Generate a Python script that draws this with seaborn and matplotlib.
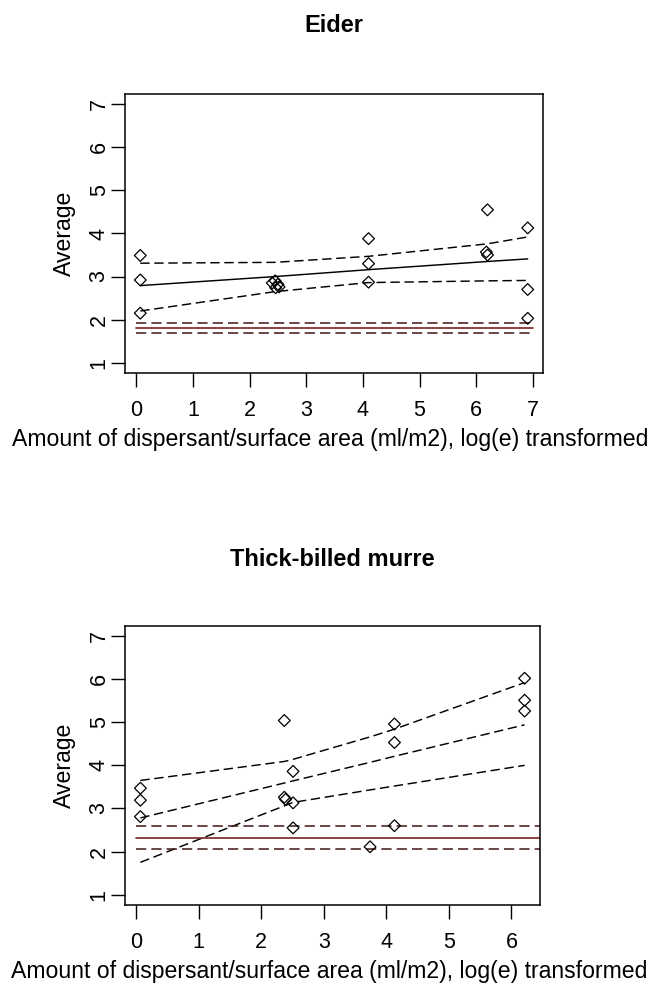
import matplotlib
matplotlib.use("Agg")
import matplotlib.pyplot as plt
import seaborn as sns
import pandas as pd

# ---------------- data ----------------
titles = ["Eider", "Thick-billed murre"]
x_label = "Amount of dispersant/surface area (ml/m2), log(e) transformed"
y_label = "Average"

eider_x = [0.07, 0.07, 0.07, 2.40, 2.45, 2.50, 2.52, 2.46, 4.10, 4.10, 4.10,
           6.18, 6.20, 6.20, 6.91, 6.91, 6.91]
eider_y = [3.49, 2.92, 2.15, 2.85, 2.90, 2.82, 2.76, 2.74, 3.88, 3.30, 2.87,
           3.57, 3.50, 4.55, 4.13, 2.70, 2.03]
eider_line_x = [0.07, 2.45, 4.10, 6.20, 6.91]
eider_fit = [2.79, 3.00, 3.16, 3.35, 3.41]
eider_upper = [3.31, 3.33, 3.47, 3.76, 3.92]
eider_lower = [2.20, 2.65, 2.86, 2.90, 2.91]
eider_ref = [1.91, 1.80, 1.68]   # upper, mean, lower

murre_x = [0.07, 0.07, 0.07, 2.37, 2.37, 2.39, 2.51, 2.51, 2.51, 3.74,
           4.13, 4.13, 4.13, 6.21, 6.21, 6.21]
murre_y = [3.47, 3.19, 2.81, 5.04, 3.26, 3.21, 3.86, 3.13, 2.55, 2.11,
           4.96, 4.53, 2.60, 6.02, 5.51, 5.26]
murre_line_x = [0.07, 2.37, 2.51, 3.74, 4.13, 6.21]
murre_fit = [2.78, 3.59, 3.64, 4.07, 4.21, 4.94]
murre_upper = [3.65, 4.09, 4.14, 4.66, 4.84, 5.92]
murre_lower = [1.75, 3.06, 3.14, 3.43, 3.52, 4.00]
murre_ref = [2.60, 2.32, 2.05]

ref_x = [0, 7]
eider_xticks = [0, 1, 2, 3, 4, 5, 6, 7]
murre_xticks = [0, 1, 2, 3, 4, 5, 6]
yticks = [1, 2, 3, 4, 5, 6, 7]

# ---------------- style ----------------
sns.set_style("ticks")
plt.rcParams["font.family"] = ["Liberation Sans", "DejaVu Sans"]
plt.rcParams["axes.linewidth"] = 1.1
plt.rcParams["text.color"] = "black"
plt.rcParams["axes.labelcolor"] = "black"
plt.rcParams["xtick.color"] = "black"
plt.rcParams["ytick.color"] = "black"

W, H = 658, 985
fig = plt.figure(figsize=(W / 100, H / 100), dpi=100)

ax1 = fig.add_axes([125 / W, 1 - 373 / H, 418 / W, 279 / H])
ax2 = fig.add_axes([125 / W, 1 - 905 / H, 415 / W, 279.3 / H])

DASH = (0, (6.4, 3.2))
REF_SOLID = "#7d2020"
REF_DASH = "#4a1e1e"


def panel(ax, title, title_y, xs, ys, lx, fit, up, lo, ref, xticks, xlim,
          fit_style):
    pts = pd.DataFrame({"x": xs, "y": ys})
    sns.scatterplot(data=pts, x="x", y="y", ax=ax, marker="D", s=36,
                    facecolor="none", edgecolor="black", linewidth=0.9,
                    zorder=3)
    sns.lineplot(x=lx, y=fit, ax=ax, color="black", linewidth=1.05,
                 linestyle=fit_style, sort=False, zorder=2)
    sns.lineplot(x=lx, y=up, ax=ax, color="black", linewidth=1.05,
                 linestyle=DASH, sort=False, zorder=2)
    sns.lineplot(x=lx, y=lo, ax=ax, color="black", linewidth=1.05,
                 linestyle=DASH, sort=False, zorder=2)
    sns.lineplot(x=ref_x, y=[ref[0]] * 2, ax=ax, color=REF_DASH,
                 linewidth=1.15, linestyle=DASH, zorder=2)
    sns.lineplot(x=ref_x, y=[ref[1]] * 2, ax=ax, color=REF_SOLID,
                 linewidth=1.2, linestyle="-", zorder=2)
    sns.lineplot(x=ref_x, y=[ref[2]] * 2, ax=ax, color=REF_DASH,
                 linewidth=1.15, linestyle=DASH, zorder=2)

    ax.set_xlim(*xlim)
    ax.set_ylim(0.76, 7.24)
    ax.set_xticks(xticks)
    ax.set_yticks(yticks)
    ax.tick_params(axis="both", direction="out", length=10, width=1.0,
                   labelsize=15.5, colors="black")
    ax.tick_params(axis="x", pad=9.2)
    ax.tick_params(axis="y", pad=1.0, labelrotation=90)
    for lab in ax.get_yticklabels():
        lab.set_va("center")
    for sp in ax.spines.values():
        sp.set_visible(True)
        sp.set_color("black")
    ax.set_xlabel(x_label, fontsize=16.6, va="baseline", color="black")
    ax.set_ylabel(y_label, fontsize=16.6, color="black")
    ax.yaxis.label.set_va("center")
    ax.set_title(title, fontsize=17, fontweight="bold", va="baseline",
                 pad=0, y=title_y, color="black")


panel(ax1, titles[0], (373 - 32) / 279, eider_x, eider_y, eider_line_x,
      eider_fit, eider_upper, eider_lower, eider_ref, eider_xticks,
      (-0.2, 7.18), "-")
panel(ax2, titles[1], (905 - 566) / 279.3, murre_x, murre_y, murre_line_x,
      murre_fit, murre_upper, murre_lower, murre_ref, murre_xticks,
      (-0.176, 6.456), DASH)

# label placement (axes coordinates)
ax1.xaxis.set_label_coords((330 - 125) / 418, (373 - 446) / 279)
ax2.xaxis.set_label_coords((329 - 125) / 415, (905 - 978) / 279.3)
ax1.yaxis.set_label_coords((64 - 125) / 418, 0.5)
ax2.yaxis.set_label_coords((64 - 125) / 415, 0.5)

fig.savefig("out.png", dpi=100, facecolor="white")
